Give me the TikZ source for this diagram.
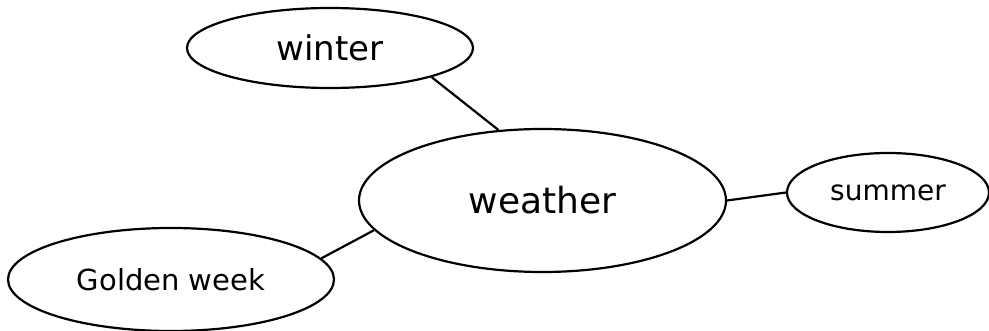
\documentclass[tikz,border=0pt]{standalone}
\usepackage{fontspec}
\setmainfont{DejaVu Sans}
\usetikzlibrary{shapes.geometric}

\tikzset{
	Bubble/.style = {draw, ellipse, line width=2.2pt, inner sep=0pt},
	Link/.style = {line width=2.2pt}
}

\begin{document}
\begin{tikzpicture}[x=1pt,y=1pt]
	\useasboundingbox (0,0) rectangle (989,331);
	\node[Bubble, minimum width=286pt, minimum height=80pt, font=\fontsize{34}{40}\selectfont] (winter) at (330,283) {winter};
	\node[Bubble, minimum width=367pt, minimum height=143pt, font=\fontsize{36}{42}\selectfont] (weather) at (542.5,130.5) {weather};
	\node[Bubble, minimum width=202pt, minimum height=79pt, font=\fontsize{28}{34}\selectfont] (summer) at (888,138.5) {summer};
	\node[Bubble, minimum width=326pt, minimum height=103pt, font=\fontsize{29}{35}\selectfont] (golden) at (171,51.5) {Golden week};
	% spokes
	\draw[Link] (winter.-16) -- (weather.122);
	\draw[Link] (weather.0) -- (summer.180);
	\draw[Link] (weather.190) -- (golden.8);
\end{tikzpicture}
\end{document}
